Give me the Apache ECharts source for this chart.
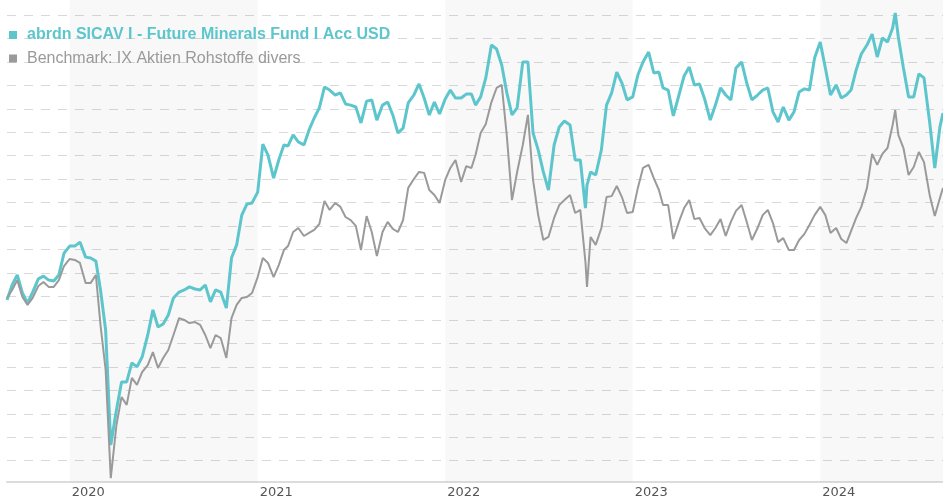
<!DOCTYPE html>
<html>
<head>
<meta charset="utf-8">
<script src="https://cdn.jsdelivr.net/npm/echarts@6/dist/echarts.min.js"></script>
<style>
html,body{margin:0;padding:0;background:#fff;}
#chart{width:943px;height:500px;}
</style>
</head>
<body>
<div id="chart"></div>
<script>
const seriesNames = ['abrdn SICAV I - Future Minerals Fund I Acc USD', 'Benchmark: IX Aktien Rohstoffe divers'];

const dates = [
'2019-09-01','2019-09-11','2019-09-21','2019-10-01','2019-10-11','2019-10-21','2019-11-01','2019-11-11','2019-11-21','2019-12-01','2019-12-11','2019-12-21',
'2020-01-01','2020-01-11','2020-01-21','2020-02-01','2020-02-11','2020-02-21','2020-03-01','2020-03-11','2020-03-21','2020-04-01','2020-04-11','2020-04-21',
'2020-05-01','2020-05-11','2020-05-21','2020-06-01','2020-06-11','2020-06-21','2020-07-01','2020-07-11','2020-07-21','2020-08-01','2020-08-11','2020-08-21',
'2020-09-01','2020-09-11','2020-09-21','2020-10-01','2020-10-11','2020-10-21','2020-11-01','2020-11-11','2020-11-21','2020-12-01','2020-12-11','2020-12-21',
'2021-01-01','2021-01-11','2021-01-21','2021-02-01','2021-02-11','2021-02-21','2021-03-01','2021-03-11','2021-03-21','2021-04-01','2021-04-11','2021-04-21',
'2021-05-01','2021-05-11','2021-05-21','2021-06-01','2021-06-11','2021-06-21','2021-07-01','2021-07-11','2021-07-21','2021-08-01','2021-08-11','2021-08-21',
'2021-09-01','2021-09-11','2021-09-21','2021-10-01','2021-10-11','2021-10-21','2021-11-01','2021-11-11','2021-11-21','2021-12-01','2021-12-11','2021-12-21',
'2022-01-01','2022-01-11','2022-01-21','2022-02-01','2022-02-11','2022-02-21','2022-03-01','2022-03-11','2022-03-21','2022-04-01','2022-04-11','2022-04-21',
'2022-05-01','2022-05-11','2022-05-21','2022-06-01','2022-06-11','2022-06-21','2022-07-01','2022-07-11','2022-07-21','2022-08-01','2022-08-11','2022-08-21',
'2022-09-01','2022-09-11','2022-09-21','2022-10-01','2022-10-04','2022-10-11','2022-10-21','2022-11-01','2022-11-11','2022-11-21','2022-12-01','2022-12-11','2022-12-21',
'2023-01-01','2023-01-11','2023-01-21','2023-02-01','2023-02-11','2023-02-21','2023-03-01','2023-03-11','2023-03-21','2023-04-01','2023-04-11','2023-04-21',
'2023-05-01','2023-05-11','2023-05-21','2023-06-01','2023-06-11','2023-06-21','2023-07-01','2023-07-11','2023-07-21','2023-08-01','2023-08-11','2023-08-21',
'2023-09-01','2023-09-11','2023-09-21','2023-10-01','2023-10-11','2023-10-21','2023-11-01','2023-11-11','2023-11-21','2023-12-01','2023-12-11','2023-12-21',
'2024-01-01','2024-01-11','2024-01-21','2024-02-01','2024-02-11','2024-02-21','2024-03-01','2024-03-11','2024-03-21','2024-04-01','2024-04-11','2024-04-21',
'2024-05-01','2024-05-11','2024-05-21','2024-05-26','2024-06-01','2024-06-11','2024-06-21','2024-07-01','2024-07-11','2024-07-21','2024-08-01','2024-08-11','2024-08-21','2024-08-27'
];

const fundValues = [
98.5,104.9,109.2,101.5,97.2,101.9,107.5,108.7,107.0,106.6,109.2,118.5,
121.5,121.5,123.2,116.8,116.4,115.1,102.8,85.7,36.7,51.6,63.6,63.6,
71.7,70.0,74.2,83.6,94.3,87.0,88.3,92.1,99.4,101.9,102.8,104.1,
103.2,102.8,104.9,97.7,102.8,101.9,95.1,116.4,122.0,134.7,139.4,139.9,
144.5,165.0,160.3,150.5,158.2,164.6,164.2,168.9,165.9,164.6,171.0,176.1,
180.4,189.3,188.0,185.9,186.8,182.1,181.6,180.8,174.0,183.3,183.8,175.2,
181.6,182.9,177.4,169.7,171.8,182.5,185.9,190.6,184.6,177.4,182.9,177.8,
184.2,188.0,184.6,184.6,186.3,186.3,181.6,185.1,193.2,207.2,205.5,198.7,
186.8,177.4,180.4,200.0,200.0,169.7,162.5,153.1,145.4,164.6,172.3,174.8,
173.1,158.2,158.2,137.7,147.5,153.1,151.8,162.5,181.6,186.8,195.7,191.0,183.8,
185.1,194.4,200.0,204.2,195.3,195.7,188.9,188.0,177.0,185.9,194.0,197.8,
190.2,190.6,184.2,175.2,181.6,188.9,185.9,183.8,197.4,200.0,191.0,183.8,
185.9,188.0,188.9,178.7,174.4,180.8,175.2,178.7,187.2,188.5,188.0,201.7,
208.5,197.4,185.9,190.2,184.6,185.9,188.0,196.6,203.4,207.2,211.9,202.1,
210.2,208.5,214.5,220.9,210.6,197.4,185.1,185.1,194.9,193.2,174.4,154.8,172.3,178.2
];

const benchValues = [
99.4,102.8,107.0,99.8,96.4,99.4,104.5,106.2,104.1,104.1,107.0,113.0,
116.0,115.6,114.3,105.8,105.8,109.2,87.9,68.7,22.6,45.2,57.2,53.8,
65.3,62.3,67.8,70.8,76.3,69.5,73.8,77.2,83.6,90.8,90.0,88.7,
89.1,87.9,83.6,78.0,83.6,82.3,73.8,90.8,96.4,99.4,99.8,101.5,
108.3,116.4,114.3,108.3,113.4,119.8,121.5,127.5,129.2,125.8,127.1,128.4,
130.9,140.7,136.9,139.9,138.2,133.9,132.6,130.1,119.8,134.3,127.5,117.3,
127.5,131.8,128.8,127.5,132.6,146.3,150.1,153.1,152.7,145.4,143.3,139.9,
149.7,154.8,158.2,148.8,155.6,154.8,160.3,169.7,173.5,182.9,188.9,190.2,
168.4,141.1,153.1,164.6,177.4,149.7,134.7,124.1,125.4,133.5,139.0,141.1,
143.3,135.6,136.9,114.7,104.1,125.4,122.0,129.2,142.4,142.8,147.1,142.4,135.6,
136.0,146.3,154.8,156.1,150.5,145.4,139.0,139.0,124.5,131.8,137.7,141.1,
133.0,133.5,129.2,126.2,129.2,133.0,125.8,131.8,136.5,139.0,131.8,124.1,
129.2,134.7,136.9,131.3,123.2,124.9,119.8,119.8,124.1,126.6,130.5,134.7,
138.2,134.7,127.1,129.2,124.5,122.8,127.9,133.5,138.2,146.3,160.8,156.1,
160.8,163.3,173.1,179.5,168.9,163.3,151.8,155.2,161.6,157.3,143.3,134.3,142.0,146.3
];

const yearBands = [['2020-01-01', '2021-01-01'], ['2022-01-01', '2023-01-01'], ['2024-01-01', '2024-08-27']];
const xStart = '2019-09-01';
const xEnd = '2024-08-27';

const TEAL = '#5dc6cc';
const GRAY = '#9a9a9a';
const LEGEND_FONT = 'Liberation Sans, Arial, sans-serif';

const chart = echarts.init(document.getElementById('chart'), null, {renderer: 'canvas'});
chart.setOption({
  animation: false,
  backgroundColor: '#ffffff',
  legend: {
    orient: 'vertical',
    left: 4,
    top: 21,
    itemWidth: 18,
    itemHeight: 8,
    itemGap: 5.5,
    icon: 'path://M0,0h10v10h-10z',
    selectedMode: false,
    textStyle: {fontSize: 16, fontFamily: LEGEND_FONT, lineHeight: 18},
    data: [
      {name: seriesNames[0], textStyle: {color: TEAL, fontWeight: 'bold', fontSize: 16, fontFamily: LEGEND_FONT, lineHeight: 18}},
      {name: seriesNames[1], textStyle: {color: GRAY, fontSize: 16, fontFamily: LEGEND_FONT, lineHeight: 18}}
    ]
  },
  grid: [
    {left: 7, right: 0, top: 0, bottom: 18.3, outerBoundsMode: 'none', containLabel: false},
    {left: 7, right: 0, top: 15, bottom: 39.3, outerBoundsMode: 'none', containLabel: false}
  ],
  xAxis: [
    {
      type: 'time', gridIndex: 0, min: xStart, max: xEnd,
      minInterval: 365 * 24 * 3600 * 1000,
      axisLine: {show: true, lineStyle: {color: '#dcdcdc', width: 2}},
      axisTick: {show: false},
      splitLine: {show: false},
      axisLabel: {formatter: '{yyyy}', align: 'left', padding: [0, 0, 0, 2], color: '#555', fontSize: 13, fontFamily: 'DejaVu Sans', margin: 4, showMinLabel: false, showMaxLabel: false}
    },
    {type: 'value', gridIndex: 1, show: false, min: 0, max: 1}
  ],
  yAxis: [
    {type: 'value', gridIndex: 0, min: 21.06, max: 226.4, show: false, splitLine: {show: false}},
    {
      type: 'value', gridIndex: 1, min: 30, max: 220, interval: 10,
      axisLine: {show: false}, axisTick: {show: false}, axisLabel: {show: false},
      splitLine: {show: true, lineStyle: {type: [9, 8], color: '#d9d9d9', width: 1}}
    }
  ],
  series: [
    {
      name: 'bands', type: 'line', xAxisIndex: 0, yAxisIndex: 0, z: 1, data: [],
      markArea: {
        silent: true,
        itemStyle: {color: 'rgba(0,0,0,0.027)'},
        data: yearBands.map(b => [{xAxis: b[0]}, {xAxis: b[1]}])
      }
    },
    {
      name: seriesNames[0], type: 'line', xAxisIndex: 0, yAxisIndex: 0, z: 3,
      showSymbol: false, symbol: 'none',
      lineStyle: {color: TEAL, width: 3}, itemStyle: {color: TEAL},
      data: dates.map((d, i) => [d, fundValues[i]])
    },
    {
      name: seriesNames[1], type: 'line', xAxisIndex: 0, yAxisIndex: 0, z: 4,
      showSymbol: false, symbol: 'none',
      lineStyle: {color: GRAY, width: 2}, itemStyle: {color: GRAY},
      data: dates.map((d, i) => [d, benchValues[i]])
    }
  ]
});
</script>
</body>
</html>
